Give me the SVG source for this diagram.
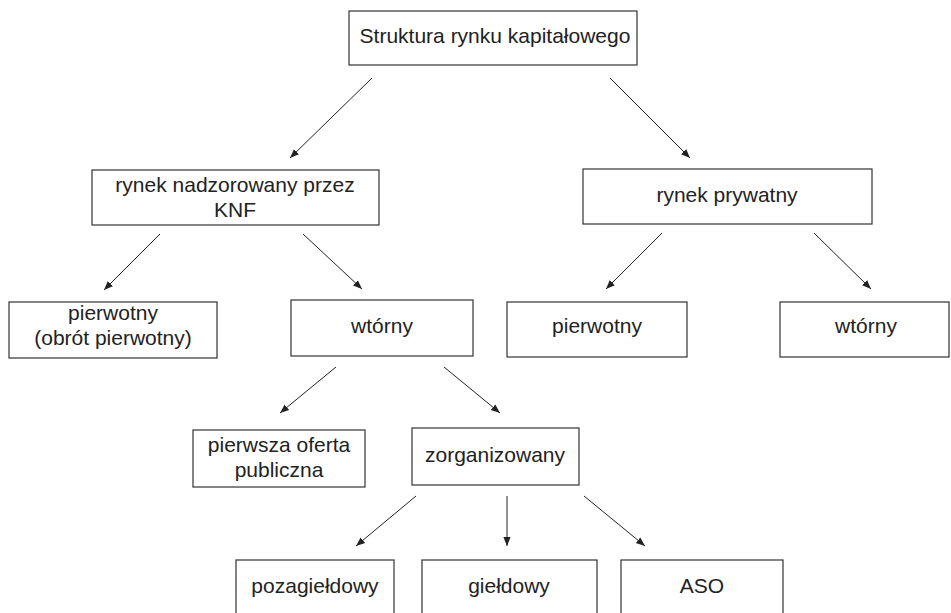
<svg xmlns="http://www.w3.org/2000/svg" width="951" height="613" viewBox="0 0 951 613">
<defs>
<marker id="ah" viewBox="0 0 10 10" refX="10" refY="5" markerWidth="9" markerHeight="9" markerUnits="userSpaceOnUse" orient="auto">
<path d="M0,1 L10,5 L0,9 z" fill="#222"/>
</marker>
<style>
.box{fill:#fff;stroke:#333;stroke-width:1.2}
.t{font-family:"Liberation Sans",Arial,sans-serif;font-size:21px;fill:#222;text-anchor:middle}
.c line{stroke:#222;stroke-width:1;marker-end:url(#ah)}
</style>
</defs>
<rect width="951" height="613" fill="#fff"/>
<g id="root"><rect class="box" x="349" y="11" width="288" height="54"/><text class="t" x="495" y="43">Struktura rynku kapitałowego</text></g>
<g id="knf"><rect class="box" x="92" y="170" width="287" height="55"/><text class="t" x="235" y="192">rynek nadzorowany przez</text><text class="t" x="235" y="217">KNF</text></g>
<g id="prywatny"><rect class="box" x="583" y="169" width="289" height="55"/><text class="t" x="727" y="202">rynek prywatny</text></g>
<g id="pierwotny1"><rect class="box" x="9" y="302" width="208" height="56"/><text class="t" x="113" y="320">pierwotny</text><text class="t" x="113" y="345">(obrót pierwotny)</text></g>
<g id="wtorny1"><rect class="box" x="291" y="300" width="182" height="56"/><text class="t" x="382" y="333">wtórny</text></g>
<g id="pierwotny2"><rect class="box" x="507" y="302" width="180" height="55"/><text class="t" x="597" y="333">pierwotny</text></g>
<g id="wtorny2"><rect class="box" x="780" y="302" width="169" height="55"/><text class="t" x="866" y="333">wtórny</text></g>
<g id="ipo"><rect class="box" x="193" y="430" width="172" height="57"/><text class="t" x="279" y="452">pierwsza oferta</text><text class="t" x="279" y="477">publiczna</text></g>
<g id="zorg"><rect class="box" x="412" y="428" width="167" height="57"/><text class="t" x="495" y="462">zorganizowany</text></g>
<g id="poza"><rect class="box" x="236" y="560" width="158" height="70"/><text class="t" x="315" y="593">pozagiełdowy</text></g>
<g id="gield"><rect class="box" x="422" y="560" width="175" height="70"/><text class="t" x="509" y="593">giełdowy</text></g>
<g id="aso"><rect class="box" x="621" y="560" width="162" height="70"/><text class="t" x="702" y="593">ASO</text></g>
<g id="connectors" class="c">
<line x1="372" y1="78" x2="290" y2="158"/>
<line x1="610" y1="78" x2="690" y2="158"/>
<line x1="160" y1="234" x2="104" y2="290"/>
<line x1="303" y1="234" x2="362" y2="289"/>
<line x1="662" y1="233" x2="606" y2="289"/>
<line x1="814" y1="233" x2="871" y2="289"/>
<line x1="336" y1="367" x2="280" y2="413"/>
<line x1="444" y1="367" x2="500" y2="413"/>
<line x1="416" y1="496" x2="356" y2="546"/>
<line x1="507" y1="496" x2="507" y2="546"/>
<line x1="584" y1="496" x2="645" y2="546"/>
</g>
</svg>
